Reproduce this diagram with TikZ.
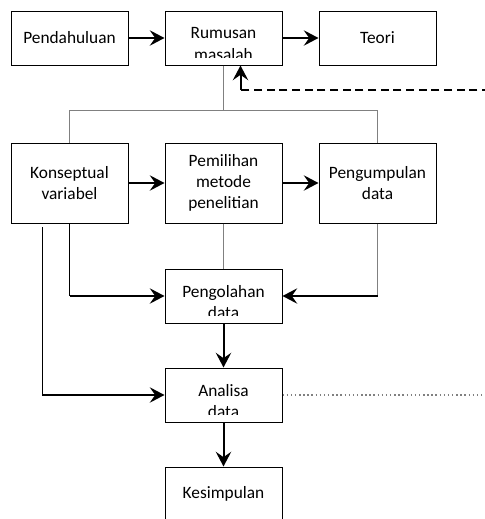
\documentclass[tikz,border=0pt]{standalone}
\usepackage{fontspec}
\setmainfont{Carlito}
\usepackage{tikz}
\usetikzlibrary{arrows.meta}

\begin{document}
\begin{tikzpicture}[x=0.75pt, y=-0.75pt]
        \def\hori{154}
        \tikzstyle{box}=[rectangle, draw=black, line width=0.75pt, minimum width=87.75pt, minimum height=40.5pt, align=center, font=\fontsize{13}{16}\selectfont]
        \tikzstyle{tall}=[box, minimum height=60pt]
        \tikzstyle{flow}=[line width=1.5pt, -{Stealth[length=11pt, width=11.5pt, inset=4pt]}]
        \tikzstyle{link}=[line width=0.75pt, draw=black!50]
        \tikzset{cut/.style={path picture={
            \clip ([yshift=6pt]path picture bounding box.south west) rectangle (path picture bounding box.north east);
            \node[align=center, font=\fontsize{13}{16}\selectfont] at ([yshift=-4.5pt]path picture bounding box.center) {#1};}}}

        \clip (0, 0) rectangle (485, 519);

        % Nodes
        \node[box] (pend) at (69.5 + 0 * \hori, 38) {Pendahuluan};
        \node[box, cut={Rumusan\\masalah}] (rumus) at (69.5 + 1 * \hori, 38) {};
        \node[box] (teori) at (69.5 + 2 * \hori, 38) {Teori};

        \node[tall] (konsep) at (69.5 + 0 * \hori, 183) {Konseptual\\variabel};
        \node[tall] (metode) at (69.5 + 1 * \hori, 183) {Pemilihan\\metode\\penelitian};
        \node[tall] (kumpul) at (69.5 + 2 * \hori, 183) {Pengumpulan\\data};

        \node[box, cut={Pengolahan\\data}] (olah) at (69.5 + 1 * \hori, 296) {};
        \node[box, cut={Analisa\\data}] (analisa) at (69.5 + 1 * \hori, 395) {};
        \node[box] (simpul) at (69.5 + 1 * \hori, 494) {Kesimpulan};

        \coordinate (balik) at (490, 90);
        \coordinate (masuk) at ([xshift=12.75pt]rumus.south);
        \coordinate (siku) at (masuk |- balik);
        \coordinate (samping) at (42, 227);
        \coordinate (ujung) at (490, 395);

        % Edges
        \draw[flow] (pend) -- (rumus);
        \draw[flow] (rumus) -- (teori);

        \draw[link] (rumus.south) -- ++(0, 45) coordinate (cabang);
        \draw[link] (cabang) -| (konsep.north);
        \draw[link] (cabang) -| (kumpul.north);
        \draw[line width=1.5pt, dash pattern=on 6pt off 3.5pt] (balik) -- (siku);
        \draw[flow] (siku) -- (masuk);

        \draw[flow] (konsep) -- (metode);
        \draw[flow] (metode) -- (kumpul);

        \draw[line width=0.75pt] (konsep.south) -- (konsep.south |- olah.west) coordinate (kiri);
        \draw[flow] (kiri) -- (olah.west);
        \draw[link] (metode) -- (olah);
        \draw[link] (kumpul.south) -- (kumpul.south |- olah.east) coordinate (kanan);
        \draw[flow] (kanan) -- (olah.east);

        \draw[flow] (olah) -- (analisa);
        \draw[line width=0.75pt] (samping) -- (samping |- analisa.west) coordinate (bawah);
        \draw[flow] (bawah) -- (analisa.west);
        \draw[link, line width=1.1pt, dotted] (analisa.east) -- (ujung);

        \draw[flow] (analisa) -- (simpul);

\end{tikzpicture}
\end{document}
